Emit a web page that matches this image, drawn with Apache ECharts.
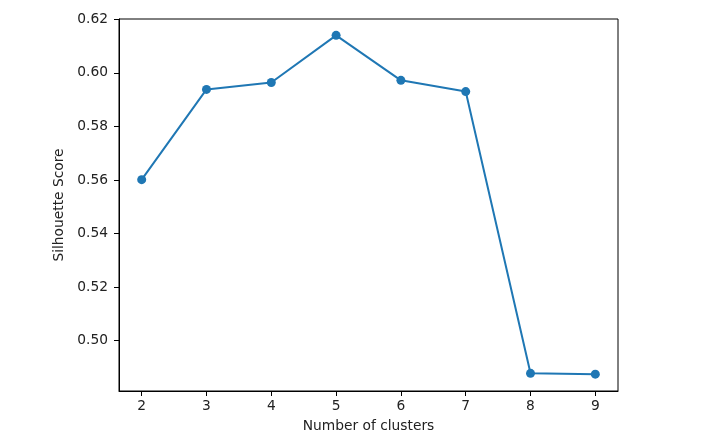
<!DOCTYPE html>
<html><head><meta charset="utf-8">
<script src="https://cdn.jsdelivr.net/npm/echarts@6/dist/echarts.min.js"></script>
<style>html,body{margin:0;padding:0;background:#fff}#c{width:706px;height:445px}</style>
</head><body><div id="c"></div>
<script>
const clusters = [2, 3, 4, 5, 6, 7, 8, 9];
const scores = [0.5601, 0.5938, 0.5964, 0.6140, 0.5972, 0.5930, 0.4878, 0.4875];
const xTicks = [2, 3, 4, 5, 6, 7, 8, 9];
const yTicks = [0.50, 0.52, 0.54, 0.56, 0.58, 0.60, 0.62];
const xTitle = 'Number of clusters';
const yTitle = 'Silhouette Score';

const font = 'DejaVu Sans';
const fs = 13.8;
const chart = echarts.init(document.getElementById('c'), null, {renderer: 'canvas'});
chart.setOption({
  animation: false,
  backgroundColor: '#fff',
  grid: {left: 119, right: 88, top: 19, bottom: 54, show: true, borderColor: '#000', borderWidth: 1, backgroundColor: 'transparent'},
  xAxis: {
    type: 'value', min: 1.65, max: 9.35,
    name: xTitle, nameLocation: 'middle', nameGap: 28,
    nameTextStyle: {fontFamily: font, fontSize: fs, color: '#222'},
    axisLine: {show: true, lineStyle: {color: '#000', width: 1}},
    axisTick: {show: true, length: 5, inside: false, customValues: xTicks, lineStyle: {color: '#000'}},
    axisLabel: {customValues: xTicks, margin: 8, fontFamily: font, fontSize: fs, color: '#222'},
    splitLine: {show: false}
  },
  yAxis: {
    type: 'value', min: 0.4812, max: 0.6201,
    name: yTitle, nameLocation: 'middle', nameGap: 45, nameRotate: 90,
    nameTextStyle: {fontFamily: font, fontSize: fs, color: '#222'},
    axisLine: {show: true, lineStyle: {color: '#000', width: 1}},
    axisTick: {show: true, length: 5, inside: false, customValues: yTicks, lineStyle: {color: '#000'}},
    axisLabel: {customValues: yTicks, margin: 11, fontFamily: font, fontSize: fs, color: '#222',
      formatter: v => v.toFixed(2)},
    splitLine: {show: false}
  },
  series: [{
    type: 'line',
    data: clusters.map((c, i) => [c, scores[i]]),
    color: '#1f77b4',
    lineStyle: {width: 2, color: '#1f77b4'},
    symbol: 'circle', symbolSize: 9,
    itemStyle: {color: '#1f77b4'},
    emphasis: {disabled: true}
  }]
});
</script></body></html>
